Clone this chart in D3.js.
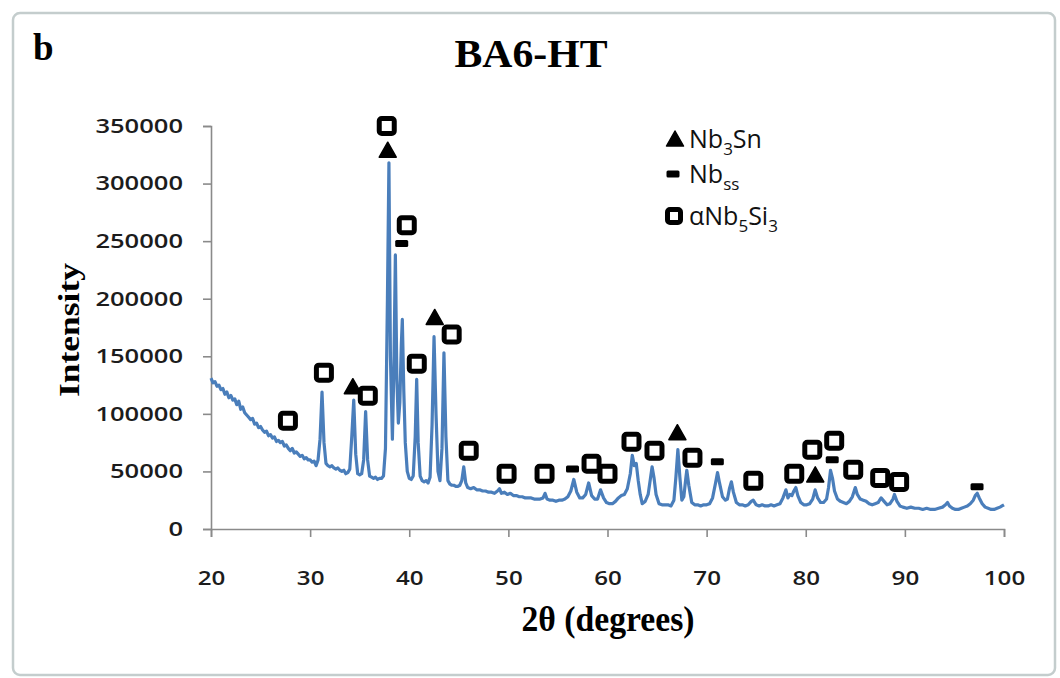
<!DOCTYPE html>
<html>
<head>
<meta charset="utf-8">
<script src="https://cdn.jsdelivr.net/npm/d3@7"></script>
<style>
  body { margin: 0; background: #fff; }
</style>
</head>
<body>
<svg id="chart" width="1060" height="678"></svg>
<script>
// XRD scan of BA6-HT: [2theta (deg), intensity]
var scan = [
  [20.0,131000],[20.2,127000],[20.4,128000],[20.6,124000],[20.8,125000],[21.0,121000],[21.2,122000],[21.4,117000],
  [21.6,119000],[21.8,114000],[22.0,116000],[22.2,112000],[22.4,113000],[22.6,108000],[22.8,111000],[23.0,104000],
  [23.2,106000],[23.4,101000],[23.6,99000],[23.8,97000],[24.0,95000],[24.2,96000],[24.4,91000],[24.6,92000],
  [24.8,88000],[25.0,89000],[25.2,86000],[25.4,84000],[25.6,85000],[25.8,81000],[26.0,82000],[26.2,79000],
  [26.4,80000],[26.6,76000],[26.8,77000],[27.0,75000],[27.2,76000],[27.4,72000],[27.6,73000],[27.8,70000],
  [28.0,68000],[28.2,70000],[28.4,66000],[28.6,67000],[28.8,65000],[29.0,63000],[29.2,64000],[29.4,61000],
  [29.6,62000],[29.8,60000],[30.0,60000],[30.2,58000],[30.4,59000],[30.6,55000],[30.8,60000],[31.0,78000],
  [31.2,119000],[31.4,75000],[31.6,57000],[31.8,55000],[32.0,54000],[32.2,55000],[32.4,53000],[32.6,52000],
  [32.8,53000],[33.0,51000],[33.2,50000],[33.4,51000],[33.6,48000],[33.8,49000],[34.0,52000],[34.2,80000],
  [34.4,112000],[34.6,65000],[34.8,48000],[35.0,47000],[35.2,48000],[35.4,60000],[35.6,102000],[35.8,60000],
  [36.0,46000],[36.2,45000],[36.4,44000],[36.6,45000],[36.8,43000],[37.0,44000],[37.2,44000],[37.4,46000],
  [37.6,70000],[37.8,200000],[37.95,318000],[38.1,150000],[38.3,78000],[38.45,140000],[38.6,238000],[38.75,130000],
  [38.9,92000],[39.05,110000],[39.2,160000],[39.3,182000],[39.45,120000],[39.6,75000],[39.8,50000],[40.0,44000],
  [40.2,43000],[40.4,46000],[40.6,80000],[40.75,130000],[40.9,75000],[41.1,46000],[41.3,42000],[41.5,41000],
  [41.7,42000],[41.9,40000],[42.1,45000],[42.3,90000],[42.5,167000],[42.7,100000],[42.9,50000],[43.1,42000],
  [43.3,70000],[43.5,153000],[43.7,80000],[43.9,42000],[44.1,39000],[44.3,38000],[44.5,38000],[44.7,37000],
  [44.9,37000],[45.1,38000],[45.3,42000],[45.5,54000],[45.7,40000],[45.9,36000],[46.2,35000],[46.5,36000],
  [46.8,34000],[47.1,34000],[47.4,33000],[47.7,33000],[48.0,32000],[48.3,32000],[48.6,31000],[48.9,33000],
  [49.1,35000],[49.3,31000],[49.6,32000],[49.9,30000],[50.2,31000],[50.5,29000],[50.8,29000],[51.1,28000],
  [51.4,28000],[51.7,27000],[52.0,27000],[52.3,27000],[52.6,26000],[52.9,26000],[53.2,26000],[53.5,27000],
  [53.7,31000],[53.9,26000],[54.2,25000],[54.5,25000],[54.8,24000],[55.1,25000],[55.4,25000],[55.7,26000],
  [56.0,28000],[56.3,33000],[56.6,43000],[56.9,32000],[57.2,27000],[57.5,27000],[57.8,30000],[58.1,40000],
  [58.4,29000],[58.7,26000],[59.0,26000],[59.3,34000],[59.6,27000],[59.9,23000],[60.2,22000],[60.5,22000],
  [60.8,24000],[61.1,27000],[61.4,29000],[61.7,30000],[62.0,35000],[62.3,48000],[62.5,64000],[62.7,55000],
  [62.9,57000],[63.1,42000],[63.3,30000],[63.5,22000],[63.8,24000],[64.1,30000],[64.3,42000],[64.5,54000],
  [64.7,44000],[64.9,30000],[65.2,22000],[65.5,21000],[65.8,21000],[66.1,21000],[66.4,20000],[66.7,25000],
  [66.9,45000],[67.1,69000],[67.3,45000],[67.5,25000],[67.7,28000],[67.9,44000],[68.0,51000],[68.2,38000],
  [68.5,23000],[68.8,21000],[69.1,21000],[69.4,20000],[69.7,21000],[70.0,21000],[70.3,22000],[70.6,27000],
  [70.9,40000],[71.1,49000],[71.3,40000],[71.6,28000],[71.9,25000],[72.1,26000],[72.3,35000],[72.5,41000],
  [72.7,32000],[73.0,23000],[73.3,21000],[73.6,21000],[73.9,20000],[74.2,21000],[74.5,24000],[74.7,25000],
  [75.0,21000],[75.3,20000],[75.6,21000],[75.9,20000],[76.2,20000],[76.5,21000],[76.8,20000],[77.1,21000],
  [77.4,22000],[77.7,27000],[78.0,34000],[78.2,27000],[78.4,30000],[78.6,29000],[78.8,33000],[79.0,36000],
  [79.2,29000],[79.5,23000],[79.8,21000],[80.1,21000],[80.4,22000],[80.7,26000],[80.95,34000],[81.2,27000],
  [81.5,23000],[81.8,23000],[82.1,26000],[82.3,36000],[82.5,51000],[82.7,44000],[82.9,33000],[83.2,26000],
  [83.5,24000],[83.8,23000],[84.1,22000],[84.4,24000],[84.7,28000],[85.0,36000],[85.2,30000],[85.5,26000],
  [85.8,25000],[86.1,24000],[86.4,22000],[86.7,21000],[87.0,22000],[87.3,23000],[87.6,27000],[87.9,24000],
  [88.2,21000],[88.5,22000],[88.8,26000],[88.95,30000],[89.2,24000],[89.5,20000],[89.8,19000],[90.2,18000],
  [90.6,19000],[91.0,18000],[91.4,18000],[91.8,17000],[92.2,18000],[92.6,17000],[93.0,17000],[93.4,18000],
  [93.8,19000],[94.1,21000],[94.3,23000],[94.5,20000],[94.8,18000],[95.1,17000],[95.4,17000],[95.7,18000],
  [96.0,19000],[96.3,20000],[96.6,22000],[96.9,25000],[97.1,29000],[97.3,31000],[97.5,27000],[97.8,22000],
  [98.1,19000],[98.4,18000],[98.7,17000],[99.0,17000],[99.3,18000],[99.6,19000],[99.8,20000],[100.0,21000]
];

// phase markers placed above the peaks: [2theta, intensity]
var nb3snMarks = [[34.31,123600],[37.83,329000],[42.57,183700],[67.05,83600],[80.96,47000]];
var nbssMarks = [[39.24,248000],[56.47,52200],[71.08,58300],[82.67,60100],[97.28,36600]];
var nb5si3Marks = [
  [27.76,94000],[31.39,135800],[35.82,115800],[37.73,350000],[39.75,263800],[40.76,143600],
  [44.28,168900],[46.0,67900],[49.82,47900],[53.65,47900],[58.39,56600],[60.0,47900],
  [62.42,75700],[64.74,67900],[68.57,61800],[74.71,41800],[78.84,47900],[80.66,68800],
  [82.87,76600],[84.79,51400],[87.51,44400],[89.42,40900]
];

var xTicks = [20, 30, 40, 50, 60, 70, 80, 90, 100];
var yTicks = [0, 50000, 100000, 150000, 200000, 250000, 300000, 350000];

var svg = d3.select("#chart"),
    margin = {top: 126, right: 56, bottom: 149, left: 211},
    width = 1060 - margin.left - margin.right,
    height = 678 - margin.top - margin.bottom;

var x = d3.scaleLinear().domain([20, 100]).range([margin.left, margin.left + width]),
    y = d3.scaleLinear().domain([0, 350000]).range([margin.top + height, margin.top]);

var serif = "'Liberation Serif', 'DejaVu Serif', serif",
    sans = "'Open Sans', 'DejaVu Sans', sans-serif",
    axisColor = "#8a8a8a";

// outer frame
svg.append("rect")
    .attr("x", 13).attr("y", 13)
    .attr("width", 1042).attr("height", 662)
    .attr("rx", 7)
    .attr("fill", "#fff")
    .attr("stroke", "#c4cdcd")
    .attr("stroke-width", 2.5);

// axes
var gx = svg.append("g")
    .attr("transform", "translate(0," + y(0) + ")")
    .call(d3.axisBottom(x).tickValues(xTicks).tickSize(8).tickSizeOuter(8));
var gy = svg.append("g")
    .attr("transform", "translate(" + x(20) + ",0)")
    .call(d3.axisLeft(y).tickValues(yTicks).tickSize(8).tickSizeOuter(8).tickFormat(d3.format("d")));

[gx, gy].forEach(function(g) {
    g.select(".domain").attr("stroke", axisColor).attr("stroke-width", 1.6);
    g.selectAll(".tick line").attr("stroke", axisColor).attr("stroke-width", 1.6);
    g.selectAll(".tick text")
        .attr("fill", "#1c1c1c")
        .style("font-family", sans)
        .style("font-size", "20px")
        .style("font-weight", "600")
        .attr("lengthAdjust", "spacingAndGlyphs");
});
gx.selectAll(".tick text")
    .attr("y", 56).attr("dy", null)
    .attr("textLength", function(d) { return String(d).length * 13.8; });
gy.selectAll(".tick text")
    .attr("x", -28)
    .attr("textLength", function(d) { return String(d).length * 14.6; });

// scan line
var line = d3.line()
    .x(function(d) { return x(d[0]); })
    .y(function(d) { return y(d[1]); });

svg.append("path")
    .datum(scan)
    .attr("fill", "none")
    .attr("stroke", "#4a7ebb")
    .attr("stroke-width", 3.2)
    .attr("stroke-linejoin", "round")
    .attr("d", line);

// marker shapes
function drawSquare(sel, s) {
    sel.append("rect")
        .attr("x", -s / 2).attr("y", -s / 2)
        .attr("width", s).attr("height", s)
        .attr("rx", 2.5)
        .attr("fill", "#fff")
        .attr("stroke", "#000")
        .attr("stroke-width", 5);
}
function drawTriangle(sel) {
    sel.append("path")
        .attr("d", "M0,-8L8.5,7L-8.5,7Z")
        .attr("fill", "#000")
        .attr("stroke", "#000")
        .attr("stroke-width", 1.5)
        .attr("stroke-linejoin", "round");
}
function drawDash(sel) {
    sel.append("rect")
        .attr("x", -6.5).attr("y", -3.5)
        .attr("width", 13).attr("height", 7)
        .attr("rx", 1.5)
        .attr("fill", "#000");
}

function place(data) {
    return svg.append("g").selectAll("g")
        .data(data)
        .join("g")
        .attr("transform", function(d) { return "translate(" + x(d[0]) + "," + y(d[1]) + ")"; });
}
drawSquare(place(nb5si3Marks), 15);
drawTriangle(place(nb3snMarks));
drawDash(place(nbssMarks));

// legend
var legend = svg.append("g").style("font-family", sans).style("font-size", "25px").attr("fill", "#111");

var l1 = legend.append("g").attr("transform", "translate(675,139)");
drawTriangle(l1);
var t1 = legend.append("text").attr("x", 689).attr("y", 148);
t1.append("tspan").text("Nb");
t1.append("tspan").attr("dy", 7).style("font-size", "17px").text("3");
t1.append("tspan").attr("dy", -7).text("Sn");

var l2 = legend.append("g").attr("transform", "translate(673,174)");
drawDash(l2);
var t2 = legend.append("text").attr("x", 689).attr("y", 183);
t2.append("tspan").text("Nb");
t2.append("tspan").attr("dy", 7).style("font-size", "17px").text("ss");

var l3 = legend.append("g").attr("transform", "translate(674,216)");
drawSquare(l3, 13);
var t3 = legend.append("text").attr("x", 689).attr("y", 225);
t3.append("tspan").text("αNb");
t3.append("tspan").attr("dy", 7).style("font-size", "17px").text("5");
t3.append("tspan").attr("dy", -7).text("Si");
t3.append("tspan").attr("dy", 7).style("font-size", "17px").text("3");

// titles
svg.append("text")
    .attr("x", 33).attr("y", 60)
    .style("font-family", serif).style("font-weight", "bold").style("font-size", "37px")
    .text("b");

svg.append("text")
    .attr("x", 531).attr("y", 67)
    .attr("text-anchor", "middle")
    .attr("textLength", 153).attr("lengthAdjust", "spacingAndGlyphs")
    .style("font-family", serif).style("font-weight", "bold").style("font-size", "40px")
    .text("BA6-HT");

svg.append("text")
    .attr("x", 608).attr("y", 631)
    .attr("text-anchor", "middle")
    .attr("textLength", 173).attr("lengthAdjust", "spacingAndGlyphs")
    .style("font-family", serif).style("font-weight", "bold").style("font-size", "35px")
    .text("2θ (degrees)");

svg.append("text")
    .attr("transform", "translate(79,330) rotate(-90)")
    .attr("text-anchor", "middle")
    .attr("textLength", 134).attr("lengthAdjust", "spacingAndGlyphs")
    .style("font-family", serif).style("font-weight", "bold").style("font-size", "29px")
    .text("Intensity");
</script>
</body>
</html>
